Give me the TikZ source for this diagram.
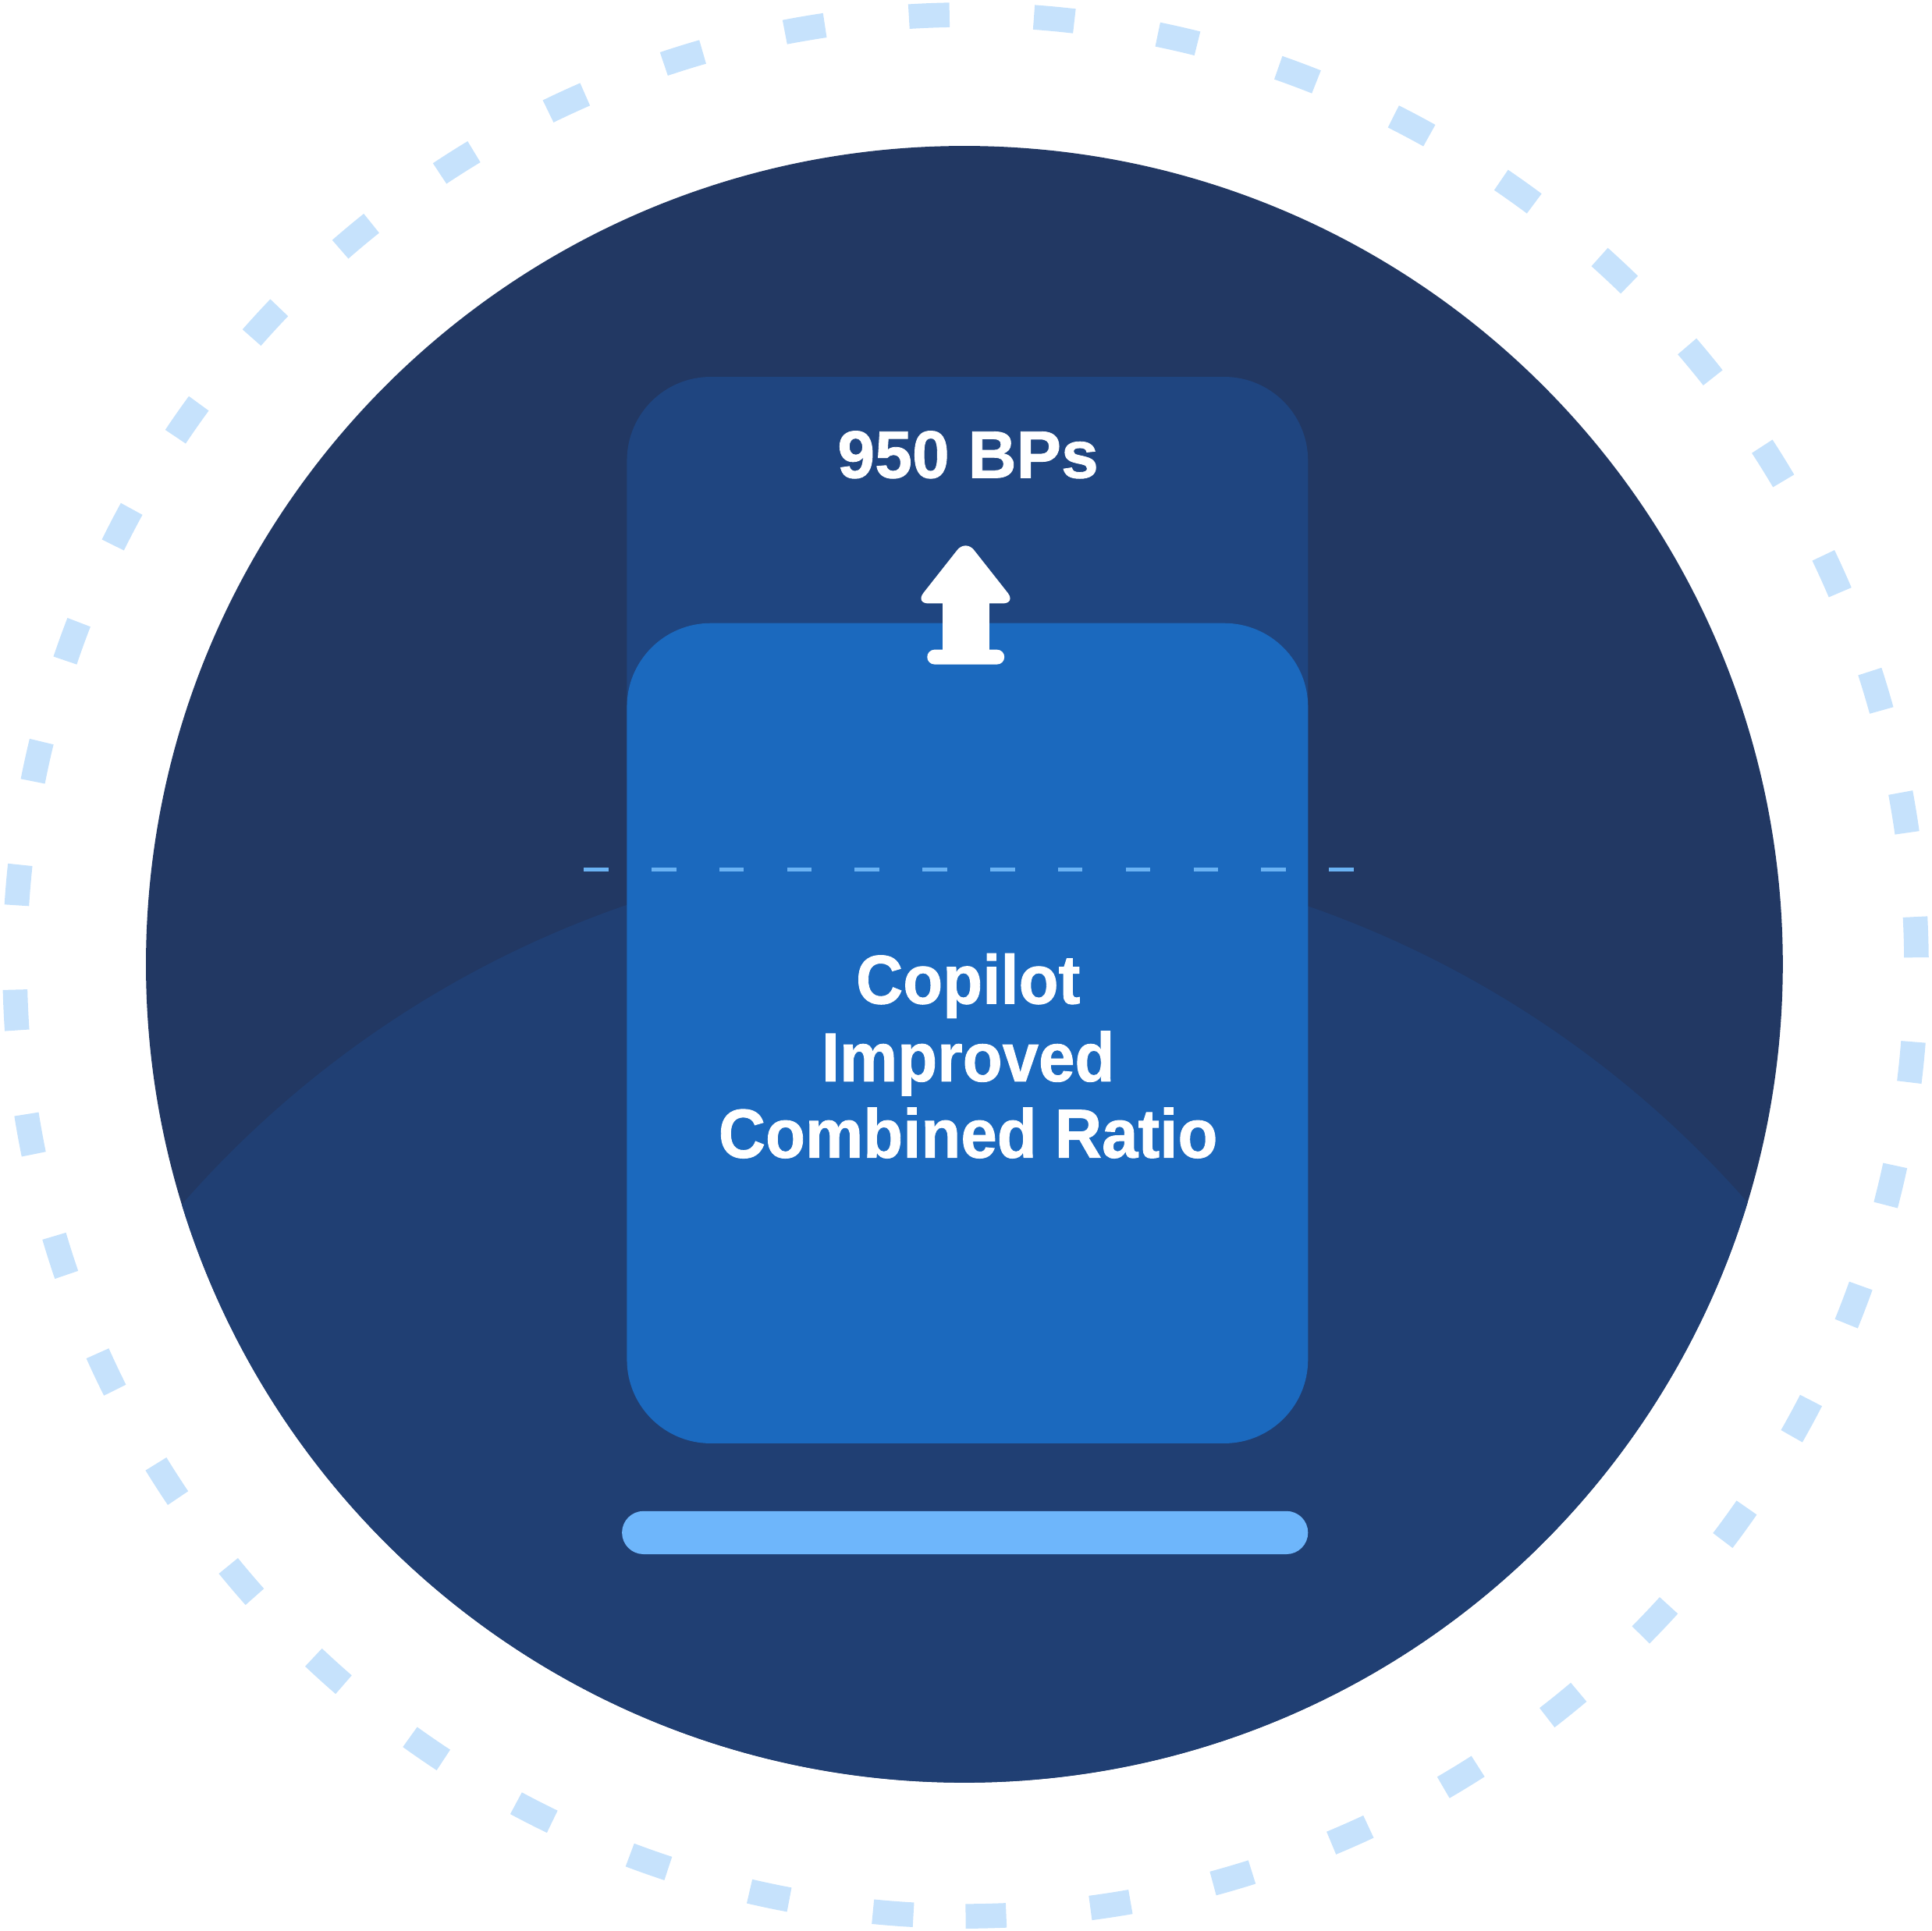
\documentclass[tikz,border=0pt]{standalone}
\usepackage{fontspec}
\newfontfamily\lblfont{Liberation Sans}[FakeStretch=0.94, FakeBold=1]
\newfontfamily\numfont{Liberation Sans}[FakeBold=1]
\definecolor{ringc}{HTML}{C6E2FC}
\definecolor{innerc}{HTML}{223863}
\definecolor{lowerc}{HTML}{203F73}
\definecolor{backc}{HTML}{1F4580}
\definecolor{frontc}{HTML}{1B69BE}
\definecolor{guidec}{HTML}{6BB3F4}
\definecolor{barc}{HTML}{6EB6FB}
\tikzset{
  ringdash/.style={draw=ringc, line width=2mm, line cap=butt},
  backbox/.style={fill=backc, draw=none, rounded corners=6.8mm, minimum width=55.3mm, inner sep=0pt, outer sep=0pt},
  frontbox/.style={fill=frontc, draw=none, rounded corners=6.8mm, minimum width=55.3mm, inner sep=0pt, outer sep=0pt},
  barbox/.style={fill=barc, draw=none, rounded corners=1.75mm, minimum width=55.7mm, minimum height=3.5mm, inner sep=0pt, outer sep=0pt},
  guide/.style={draw=guidec, line width=0.3mm, dash pattern=on 2mm off 3.5mm},
  lbl/.style={text=white, inner sep=0pt, anchor=base, font=\lblfont\bfseries\fontsize{16pt}{18pt}\selectfont},
  numlbl/.style={text=white, inner sep=0pt, anchor=base, font=\numfont\bfseries\fontsize{15.5pt}{18pt}\selectfont},
  arrowpart/.style={fill=white, draw=none}
}
\begin{document}
\begin{tikzpicture}[x=0.1mm,y=-0.1mm]
\useasboundingbox (0,0) rectangle (1568,1568);
% outer dashed ring: starts at the bottom, runs towards the right side
\foreach \i in {0,...,47} {
  \pgfmathsetmacro{\a}{90-7.5405*\i}
  \draw[ringdash] (784,784) ++(\a:772) arc[start angle=\a, delta angle=-2.449, radius=772];
}
% inner circle
\fill[innerc] (783,783) circle[radius=664.5];
\begin{scope}
  \clip (783,783) circle[radius=664.5];
  \fill[lowerc] (784,1534) circle[radius=845];
\end{scope}
% boxes
\node[backbox, minimum height=38.8mm] (back) at (785.5,500) {};
\node[frontbox, minimum height=66.6mm] (front) at (785.5,839) {};
\node[barbox] (bar) at (783.5,1244.5) {};
% dashed guide line
\coordinate (gl) at (474,706);
\coordinate (gr) at (1099,706);
\draw[guide] (gl) -- (gr);
% arrow
\fill[arrowpart, rounded corners=1.1mm] (743,490) -- (784,438) -- (825,490) -- cycle;
\fill[arrowpart] (765,486) rectangle (803.5,530);
\fill[arrowpart, rounded corners=0.6mm] (752.8,527.5) rectangle (815.5,539.5);
% texts
\node[numlbl] (bps) at (786,388) {950 BPs};
\node[lbl] (l1) at (786,815) {Copilot};
\node[lbl] (l2) at (786,878) {Improved};
\node[lbl] (l3) at (786,940) {Combined Ratio};
\end{tikzpicture}
\end{document}
